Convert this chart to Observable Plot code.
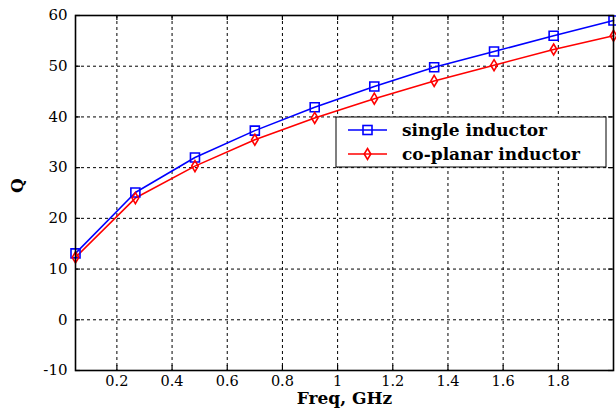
<!DOCTYPE html>
<html>
<head>
<meta charset="utf-8">
<script src="https://cdn.jsdelivr.net/npm/d3@7"></script>
<script src="https://cdn.jsdelivr.net/npm/@observablehq/plot@0.6"></script>
<style>
  html, body { margin: 0; padding: 0; background: #fff; }
  #chart { position: relative; width: 616px; height: 414px; }
</style>
</head>
<body>
<div id="chart"></div>
<script>
const freq = [0.05, 0.267, 0.483, 0.7, 0.917, 1.133, 1.35, 1.567, 1.783, 2.0];
const qSingle = [13.1, 25.1, 32.0, 37.3, 41.9, 46.0, 49.8, 52.9, 56.0, 59.0];
const qCoplanar = [12.3, 24.0, 30.3, 35.5, 39.8, 43.6, 47.1, 50.2, 53.3, 56.0];
const seriesNames = ["single inductor", "co-planar inductor"];
const seriesColors = ["#0000ff", "#ff0000"];
const xTicks = [0.2, 0.4, 0.6, 0.8, 1, 1.2, 1.4, 1.6, 1.8];
const yTicks = [-10, 0, 10, 20, 30, 40, 50, 60];

const single = freq.map((f, i) => ({f, q: qSingle[i]}));
const coplanar = freq.map((f, i) => ({f, q: qCoplanar[i]}));

const tallDiamond = {
  draw(ctx, size) {
    const r = Math.sqrt(size / Math.PI);
    const w = r * 0.6;
    ctx.moveTo(0, -r); ctx.lineTo(w, 0); ctx.lineTo(0, r); ctx.lineTo(-w, 0); ctx.closePath();
  }
};
const squareSym = {
  draw(ctx, size) {
    const r = Math.sqrt(size / Math.PI);
    ctx.rect(-r, -r, 2 * r, 2 * r);
  }
};

const fontFam = "'DejaVu Serif', 'Liberation Serif', serif";
const W = 616, H = 414, mL = 75, mR = 3, mT = 15, mB = 44;
const frameW = W - mL - mR, frameH = H - mT - mB, tickLen = 5;

const chart = Plot.plot({
  width: W,
  height: H,
  marginLeft: mL,
  marginRight: mR,
  marginTop: mT,
  marginBottom: mB,
  style: {fontFamily: fontFam, fontSize: "15px", color: "#000", background: "#fff"},
  x: {domain: [0.05, 2.0], label: null},
  y: {domain: [-10, 60], label: null},
  marks: [
    Plot.gridX(xTicks, {stroke: "#000", strokeOpacity: 1, strokeDasharray: "3,3", strokeWidth: 1}),
    Plot.gridY(yTicks, {stroke: "#000", strokeOpacity: 1, strokeDasharray: "3,3", strokeWidth: 1}),
    // inward tick marks on all four sides
    Plot.tickX(xTicks, {x: d => d, insetTop: frameH - tickLen, stroke: "#000", strokeWidth: 1.2}),
    Plot.tickX(xTicks, {x: d => d, insetBottom: frameH - tickLen, stroke: "#000", strokeWidth: 1.2}),
    Plot.tickY(yTicks, {y: d => d, insetRight: frameW - tickLen, stroke: "#000", strokeWidth: 1.2}),
    Plot.tickY(yTicks, {y: d => d, insetLeft: frameW - tickLen, stroke: "#000", strokeWidth: 1.2}),
    Plot.axisX(xTicks, {tickSize: 0, tickPadding: 5, fontSize: 14.5, tickFormat: d => String(d)}),
    Plot.axisY(yTicks, {tickSize: 0, tickPadding: 8, fontSize: 15, tickFormat: d => String(d)}),
    Plot.line(single, {x: "f", y: "q", stroke: seriesColors[0], strokeWidth: 1.6}),
    Plot.line(coplanar, {x: "f", y: "q", stroke: seriesColors[1], strokeWidth: 1.6}),
    Plot.dot(single, {x: "f", y: "q", symbol: squareSym, r: 4.5, stroke: seriesColors[0], strokeWidth: 1.6, fill: "none"}),
    Plot.dot(coplanar, {x: "f", y: "q", symbol: tallDiamond, r: 5.5, stroke: seriesColors[1], strokeWidth: 1.6, fill: "none"}),
    Plot.frame({stroke: "#000", strokeWidth: 1.6}),
    Plot.text(["Freq, GHz"], {frameAnchor: "bottom", dy: 33, fontWeight: "bold", fontSize: 17}),
    Plot.text(["Q"], {frameAnchor: "left", dx: -58, rotate: -90, fontWeight: "bold", fontSize: 17})
  ]
});
document.getElementById("chart").appendChild(chart);

// Legend (inside plot area, upper right), drawn in pixel space
const svg = d3.select(chart);
const lg = svg.append("g").attr("transform", "translate(336,117)");
lg.append("rect").attr("width", 270).attr("height", 50)
  .attr("fill", "#fff").attr("stroke", "#000").attr("stroke-width", 1);
seriesNames.forEach((name, i) => {
  const cy = 13 + i * 24;
  const g = lg.append("g").attr("transform", `translate(0,${cy})`);
  g.append("line").attr("x1", 12).attr("x2", 51).attr("y1", 0).attr("y2", 0)
    .attr("stroke", seriesColors[i]).attr("stroke-width", 1.6);
  if (i === 0) {
    g.append("rect").attr("x", 31.5 - 4.5).attr("y", -4.5).attr("width", 9).attr("height", 9)
      .attr("fill", "none").attr("stroke", seriesColors[i]).attr("stroke-width", 1.6);
  } else {
    g.append("path").attr("d", "M31.5,-5.5L34.8,0L31.5,5.5L28.2,0Z")
      .attr("fill", "none").attr("stroke", seriesColors[i]).attr("stroke-width", 1.6);
  }
  g.append("text").attr("x", 66).attr("y", 0).attr("dy", "0.35em")
    .attr("text-anchor", "start")
    .attr("font-family", fontFam).attr("font-weight", "bold").attr("font-size", 17)
    .attr("fill", "#000").text(name);
});
</script>
</body>
</html>
